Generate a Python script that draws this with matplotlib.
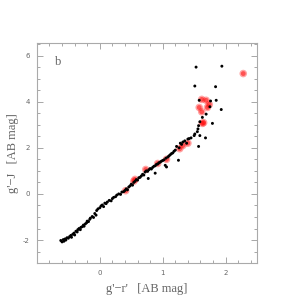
import numpy as np
import matplotlib.pyplot as plt
from matplotlib.ticker import MultipleLocator, FuncFormatter

# black points: g'-r', g'-J
bx = [-0.62, -0.60, -0.58, -0.57, -0.55, -0.54, -0.52, -0.50, -0.48, -0.46,
      -0.45, -0.43, -0.41, -0.40, -0.38, -0.36, -0.35, -0.33, -0.31, -0.30,
      -0.28, -0.26, -0.25, -0.23, -0.21, -0.20, -0.18, -0.16, -0.15, -0.12,
      -0.10, -0.08, -0.06, -0.05, -0.03, 0.00, 0.02, 0.04, 0.06, 0.08,
      0.10, 0.12, 0.15, 0.18, 0.20, 0.22, 0.25, 0.27, 0.30, 0.33,
      0.35, 0.38, 0.40, 0.42, 0.44, 0.46, 0.48, 0.50, 0.52, 0.54,
      0.56, 0.58, 0.60, 0.62, 0.64, 0.66, 0.68, 0.70, 0.72, 0.74,
      0.76, 0.77, 0.78, 0.80, 0.82, 0.84, 0.86, 0.88, 0.88, 0.90,
      0.92, 0.94, 0.96, 0.98, 1.00, 1.02, 1.04, 1.05, 1.06, 1.08,
      1.10, 1.12, 1.14, 1.16, 1.18, 1.20, 1.22, 1.25, 1.26, 1.28,
      1.30, 1.32, 1.35, 1.38, 1.40, 1.42, 1.45, 1.50, 1.51, 1.55,
      1.56, 1.57, 1.57, 1.59, 1.59, 1.63, 1.68, 1.69, 1.75, 1.76,
      1.79, 1.85, 1.58, 1.84, 1.51, 1.93, 1.53, 1.94]
by = [-2.02, -2.08, -1.98, -2.05, -1.95, -2.00, -1.90, -1.92, -1.85, -1.80,
      -1.88, -1.75, -1.70, -1.78, -1.62, -1.65, -1.55, -1.50, -1.55, -1.45,
      -1.42, -1.35, -1.40, -1.30, -1.25, -1.18, -1.20, -1.10, -1.05, -0.98,
      -1.02, -0.85, -0.92, -0.72, -0.65, -0.60, -0.52, -0.48, -0.55, -0.40,
      -0.42, -0.35, -0.28, -0.30, -0.20, -0.15, -0.12, -0.05, 0.00, -0.02,
      0.08, 0.10, 0.15, 0.22, 0.18, 0.30, 0.35, 0.42, 0.38, 0.50,
      0.55, 0.62, 0.60, 0.70, 0.72, 0.78, 0.85, 0.82, 0.95, 1.00,
      0.98, 0.67, 1.05, 1.10, 1.08, 1.15, 1.20, 0.90, 1.22, 1.28,
      1.30, 1.35, 1.38, 1.42, 1.45, 1.48, 1.24, 1.55, 1.17, 1.60,
      1.65, 1.70, 1.75, 1.78, 1.85, 1.90, 2.06, 1.46, 2.00, 2.20,
      2.15, 2.25, 2.30, 2.20, 2.38, 2.40, 2.43, 2.53, 2.60, 2.70,
      2.82, 2.96, 2.06, 2.53, 3.13, 3.32, 2.43, 3.46, 3.78, 4.03,
      3.06, 4.06, 4.06, 4.65, 4.68, 3.66, 5.50, 5.54]

# red points
rx = [0.41, 0.54, 0.56, 0.73, 0.92, 1.06, 1.27, 1.32, 1.40,
      1.58, 1.62, 1.62, 1.63, 1.65, 1.69, 1.71, 1.74, 2.28]
ry = [0.14, 0.55, 0.63, 1.06, 1.32, 1.50, 1.96, 2.10, 2.20,
      3.75, 4.10, 3.56, 3.06, 3.09, 4.06, 3.75, 3.88, 5.22]

grey = '#666666'
serif = ['Liberation Serif', 'DejaVu Serif']

fig = plt.figure(figsize=(3, 3), dpi=100)
ax = fig.add_axes([0.123, 0.123, 0.734, 0.734])

ax.scatter(rx, ry, s=30, color='red', alpha=0.35, edgecolors='none', zorder=2)
ax.scatter(rx, ry, s=12, color='red', alpha=0.5, edgecolors='none', zorder=2)
ax.scatter(bx, by, s=4.5, color='black', edgecolors='none', zorder=3)

ax.set_xlim(-1.0, 2.5)
ax.set_ylim(-3.0, 6.55)
ax.xaxis.set_major_locator(MultipleLocator(1))
ax.xaxis.set_minor_locator(MultipleLocator(0.2))
ax.yaxis.set_major_locator(MultipleLocator(2))
ax.yaxis.set_minor_locator(MultipleLocator(0.5))
ax.xaxis.set_major_formatter(FuncFormatter(lambda v, p: '' if v < -0.5 else '%d' % round(v)))
ax.yaxis.set_major_formatter(FuncFormatter(lambda v, p: '%d' % round(v)))
ax.tick_params(which='both', direction='in', top=True, right=True,
               color='#999999', labelcolor=grey, labelsize=5, width=0.6)
ax.tick_params(which='major', length=4, pad=5)
ax.tick_params(which='minor', length=2.2)
for sp in ax.spines.values():
    sp.set_color('#aaaaaa')
    sp.set_linewidth(0.8)

ax.set_xlabel("g'\u2212r'   [AB mag]", family=serif, fontsize=9, color=grey, labelpad=5)
ax.set_ylabel("g'\u2212J   [AB mag]", family=serif, fontsize=9, color=grey, labelpad=3)
ax.text(-0.72, 5.7, 'b', family=serif, fontsize=9, color=grey, va='center')

fig.savefig('out.png', dpi=100)
